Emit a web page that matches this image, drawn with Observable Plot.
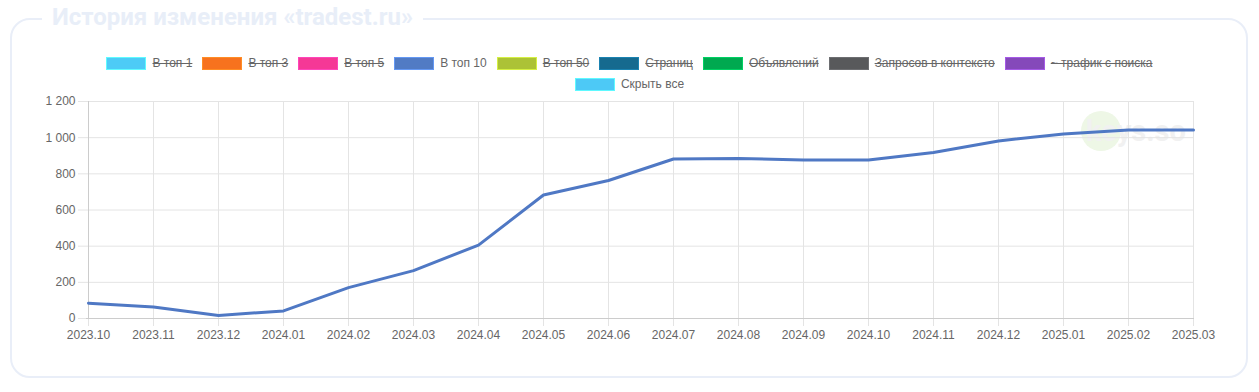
<!DOCTYPE html>
<html>
<head>
<meta charset="utf-8">
<script src="https://cdn.jsdelivr.net/npm/d3@7"></script>
<script src="https://cdn.jsdelivr.net/npm/@observablehq/plot@0.6"></script>
<style>
  html, body { margin: 0; padding: 0; background: #fff; }
  body { width: 1259px; height: 392px; position: relative; overflow: hidden; font-family: "Liberation Sans", Arial, sans-serif; }
  #frame { position: absolute; left: 10px; top: 18px; width: 1234px; height: 356px; border: 2px solid #e9eef8; border-radius: 20px; }
  #title { position: absolute; left: 42px; top: 2px; padding: 0 10px; background: #fff; font-family: Roboto, sans-serif; font-weight: 700; font-size: 24px; color: #e8eef8; line-height: 30px; white-space: nowrap; }
  .row { position: absolute; left: 0; width: 1259px; display: flex; justify-content: center; }
  .item { display: flex; align-items: center; margin: 0 5px; font-size: 12px; color: #666; white-space: nowrap; }
  .sw { width: 40px; height: 13px; margin-right: 6px; box-sizing: border-box; }
  .off { text-decoration: line-through; }
  #chart { position: absolute; left: 0; top: 92px; }
  #wm { position: absolute; left: 1081px; top: 111px; width: 40px; height: 40px; border-radius: 50%; background: #eef7e6; }
  #wmt { position: absolute; left: 1086px; top: 114px; font-family: Roboto, sans-serif; font-weight: 700; font-size: 29px; color: #f1f1f1; line-height: 34px; }
</style>
</head>
<body>
<div id="frame"></div>
<div id="title">История изменения «tradest.ru»</div>
<div class="row" id="row1" style="top:56px"></div>
<div class="row" id="row2" style="top:77px"></div>
<div id="wm"></div>
<div id="wmt">keys.so</div>
<div id="chart"></div>
<script>
const months = ["2023.10","2023.11","2023.12","2024.01","2024.02","2024.03","2024.04","2024.05","2024.06","2024.07","2024.08","2024.09","2024.10","2024.11","2024.12","2025.01","2025.02","2025.03"];
const top10 = [85, 63, 17, 42, 171, 265, 406, 683, 763, 882, 885, 877, 877, 918, 982, 1020, 1043, 1043];
const yTicks = [0, 200, 400, 600, 800, 1000, 1200];

const legendNames = ["В топ 1","В топ 3","В топ 5","В топ 10","В топ 50","Страниц","Объявлений","Запросов в контексто","~ трафик с поиска"];
const legendColors = ["#4dcbf6","#f7721e","#f53896","#517bc4","#acc236","#166a8f","#00a950","#58595b","#8549ba"];
const legendActive = [false,false,false,true,false,false,false,false,false];
const extraName = "Скрыть все";
const extraColor = "#4dc9f6";

function addItem(row, name, color, active) {
  const it = document.createElement("div");
  it.className = "item";
  const sw = document.createElement("div");
  sw.className = "sw";
  sw.style.background = color;
  sw.style.border = "1px solid " + d3.color(color).brighter(0.6).formatHex();
  const t = document.createElement("span");
  t.textContent = name;
  if (!active) t.className = "off";
  it.appendChild(sw); it.appendChild(t);
  row.appendChild(it);
}
const r1 = document.getElementById("row1");
legendNames.forEach((n, i) => addItem(r1, n, legendColors[i], legendActive[i]));
addItem(document.getElementById("row2"), extraName, extraColor, true);

const data = months.map((m, i) => ({month: m, value: top10[i]}));
const fmt = v => d3.format(",")(v).replace(/,/g, " ");

const chart = Plot.plot({
  width: 1259,
  height: 260,
  marginLeft: 86,
  marginRight: 65,
  marginTop: 9,
  marginBottom: 34,
  style: {fontFamily: '"Liberation Sans", Arial, sans-serif', fontSize: "12px", color: "#666", background: "transparent"},
  x: {type: "point", domain: months, padding: 0, label: null},
  y: {domain: [0, 1200], label: null},
  marks: [
    Plot.gridY(yTicks, {stroke: "#e4e4e4", strokeOpacity: 1}),
    Plot.gridX(months, {stroke: "#e4e4e4", strokeOpacity: 1}),
    Plot.axisY({ticks: yTicks, tickFormat: fmt, tickSize: 8, tickPadding: 3, stroke: "#e4e4e4", fill: "#666", label: null}),
    Plot.axisX({ticks: months, tickSize: 8, tickPadding: 4, stroke: "#e4e4e4", fill: "#666", label: null}),
    Plot.ruleY([0], {stroke: "#cccccc"}),
    Plot.ruleX([months[0]], {stroke: "#cccccc"}),
    Plot.line(data, {x: "month", y: "value", stroke: "#4f78c4", strokeWidth: 3, strokeLinejoin: "round"})
  ]
});
document.getElementById("chart").appendChild(chart);
</script>
</body>
</html>
